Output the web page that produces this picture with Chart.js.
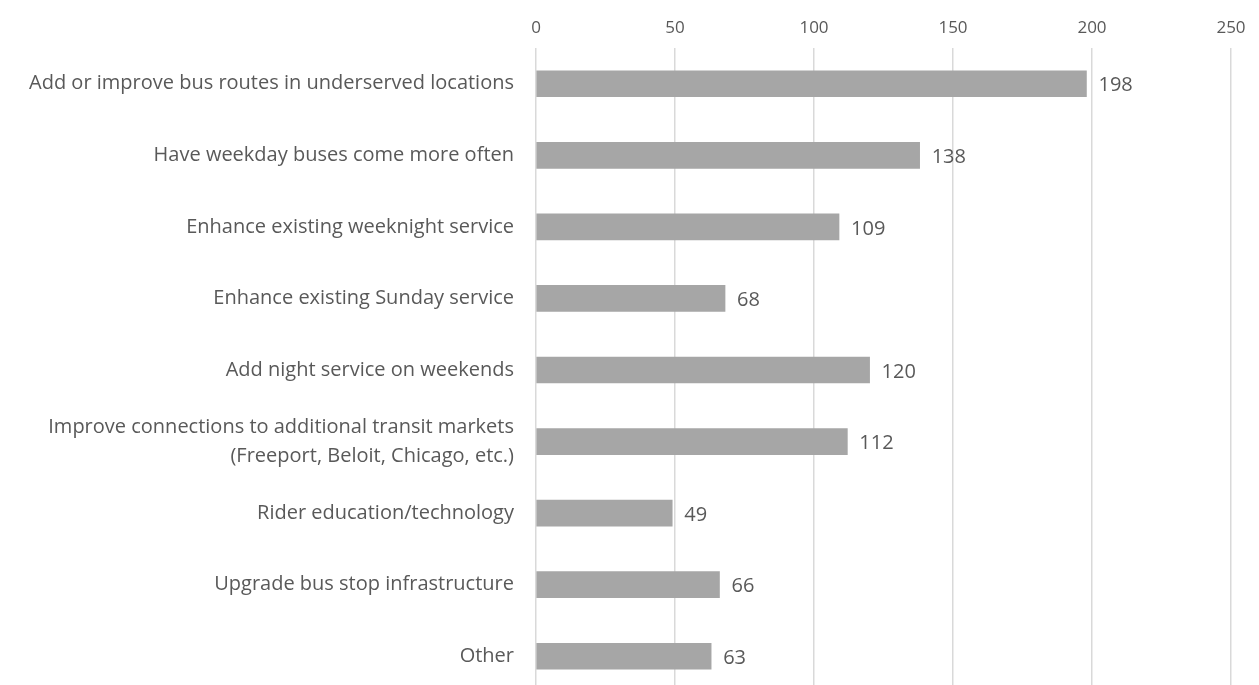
<!DOCTYPE html>
<html>
<head>
<meta charset="utf-8">
<script src="https://cdn.jsdelivr.net/npm/chart.js@4/dist/chart.umd.min.js"></script>
<style>
  html, body { margin: 0; padding: 0; background: #fff; overflow: hidden; }
  #wrap { width: 1259px; height: 692px; }
</style>
</head>
<body>
<div id="wrap"><canvas id="chart" width="1259" height="692"></canvas></div>
<script>
// survey answers (top to bottom)
const categories = [
  "Add or improve bus routes in underserved locations",
  "Have weekday buses come more often",
  "Enhance existing weeknight service",
  "Enhance existing Sunday service",
  "Add night service on weekends",
  ["Improve connections to additional transit markets", "(Freeport, Beloit, Chicago, etc.)"],
  "Rider education/technology",
  "Upgrade bus stop infrastructure",
  "Other"
];
const responses = [198, 138, 109, 68, 120, 112, 49, 66, 63];
const axisMax = 250;
const axisStep = 50;

const textColor = "#595959";
const fontFamily = "'Open Sans', Lato, sans-serif";

// draw the numbers at the end of each bar
const valueLabels = {
  id: "valueLabels",
  afterDatasetsDraw(chart) {
    const ctx = chart.ctx;
    const meta = chart.getDatasetMeta(0);
    ctx.save();
    ctx.font = "20px " + fontFamily;
    ctx.fillStyle = textColor;
    ctx.textAlign = "left";
    ctx.textBaseline = "middle";
    meta.data.forEach((bar, i) => {
      ctx.fillText(responses[i], bar.x + 12, bar.y + 2);
    });
    ctx.restore();
  }
};

new Chart(document.getElementById("chart"), {
  type: "bar",
  data: {
    labels: categories,
    datasets: [{
      data: responses,
      backgroundColor: "#a6a6a6",
      borderWidth: 0,
      barThickness: 26
    }]
  },
  options: {
    indexAxis: "y",
    responsive: false,
    animation: false,
    layout: { padding: { left: 0, right: 28, top: 0, bottom: 0 } },
    plugins: {
      legend: { display: false },
      tooltip: { enabled: false }
    },
    scales: {
      x: {
        position: "top",
        min: 0,
        max: axisMax,
        ticks: {
          stepSize: axisStep,
          color: textColor,
          padding: 10,
          font: { family: fontFamily, size: 17 }
        },
        grid: { color: "#d9d9d9", lineWidth: 1.5, drawTicks: false },
        border: { display: false },
        afterFit: scale => { scale.height = 48; }
      },
      y: {
        ticks: {
          color: textColor,
          padding: 22,
          font: { family: fontFamily, size: 20, lineHeight: 1.45 }
        },
        grid: { display: false, drawTicks: false },
        border: { display: false },
        afterFit: scale => {
          scale.width = 536;
          scale.paddingTop = 0;
          scale.paddingBottom = 0;
        }
      }
    }
  },
  plugins: [valueLabels]
});
</script>
</body>
</html>
